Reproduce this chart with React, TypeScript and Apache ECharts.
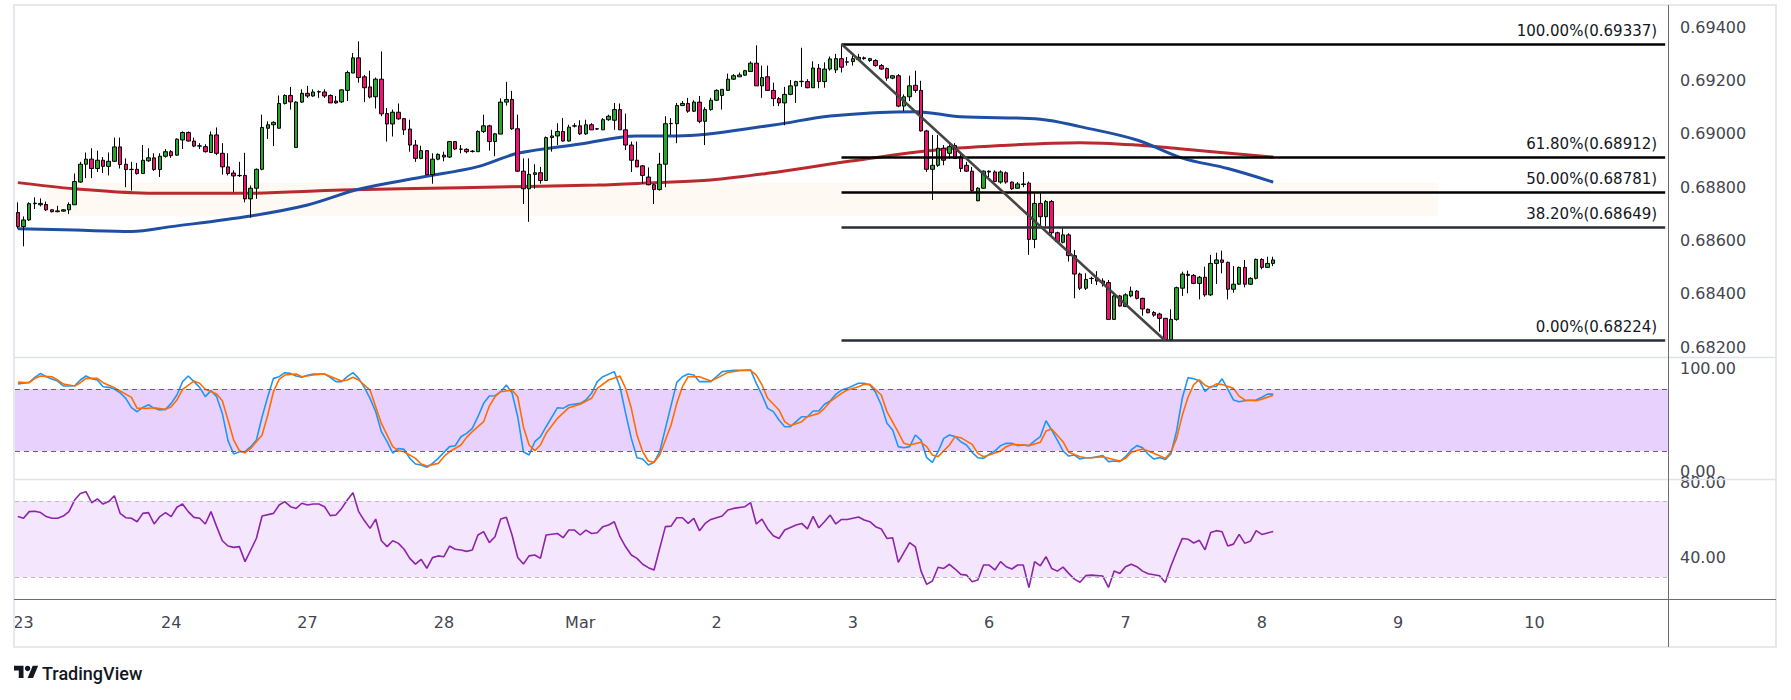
import React, { useEffect, useRef } from "react";
import * as echarts from "echarts";

const SLOTS = 291;
const CATEGORIES = Array.from({ length: SLOTS }, (_, i) => String(i));
const DAY_TICKS: [number, string][] = [
  [1, "23"], [27, "24"], [51, "27"], [75, "28"], [99, "Mar"], [123, "2"],
  [147, "3"], [171, "6"], [195, "7"], [219, "8"], [243, "9"], [267, "10"],
];
const PRICE_TICKS = [0.682, 0.684, 0.686, 0.688, 0.69, 0.692, 0.694];
const STOCH_TICKS = [0, 100];
const RSI_TICKS = [40, 80];

const OPEN = [
  0.68705, 0.68652, 0.68677, 0.68738, 0.68734, 0.68735, 0.68715, 0.68711, 0.68710, 0.68715,
  0.68734, 0.68819, 0.68886, 0.68905, 0.68870, 0.68901, 0.68878, 0.68897, 0.68951, 0.68886,
  0.68867, 0.68867, 0.68851, 0.68899, 0.68910, 0.68866, 0.68916, 0.68933, 0.68920, 0.68977,
  0.69005, 0.68973, 0.68955, 0.68952, 0.68930, 0.68996, 0.68927, 0.68876, 0.68853, 0.68844,
  0.68844, 0.68756, 0.68796, 0.68867, 0.69021, 0.69034, 0.69021, 0.69114, 0.69144, 0.68949,
  0.69119, 0.69152, 0.69142, 0.69157, 0.69157, 0.69144, 0.69123, 0.69120, 0.69163, 0.69228,
  0.69285, 0.69214, 0.69176, 0.69139, 0.69205, 0.69076, 0.69037, 0.69081, 0.69057, 0.69018,
  0.68958, 0.68908, 0.68937, 0.68847, 0.68905, 0.68920, 0.68913, 0.68971, 0.68943, 0.68942,
  0.68935, 0.68933, 0.69009, 0.69030, 0.68971, 0.68999, 0.69119, 0.69129, 0.69019, 0.68860,
  0.68794, 0.68848, 0.68854, 0.68825, 0.68986, 0.68992, 0.69009, 0.68973, 0.69029, 0.69030,
  0.69000, 0.69034, 0.69018, 0.69015, 0.69053, 0.69051, 0.69091, 0.69015, 0.68958, 0.68901,
  0.68880, 0.68838, 0.68809, 0.68791, 0.68886, 0.69038, 0.69038, 0.69106, 0.69114, 0.69085,
  0.69119, 0.69047, 0.69091, 0.69126, 0.69144, 0.69163, 0.69205, 0.69214, 0.69220, 0.69234,
  0.69265, 0.69180, 0.69214, 0.69163, 0.69132, 0.69116, 0.69148, 0.69180, 0.69196, 0.69196,
  0.69173, 0.69246, 0.69196, 0.69243, 0.69240, 0.69282, 0.69269, 0.69271, 0.69279, 0.69285,
  0.69282, 0.69275, 0.69256, 0.69245, 0.69209, 0.69218, 0.69104, 0.69139, 0.69182, 0.69163,
  0.69011, 0.68867, 0.68882, 0.68946, 0.68927, 0.68956, 0.68914, 0.68882, 0.68860, 0.68749,
  0.68796, 0.68860, 0.68857, 0.68819, 0.68854, 0.68819, 0.68796, 0.68812, 0.68815, 0.68604,
  0.68739, 0.68689, 0.68746, 0.68629, 0.68593, 0.68621, 0.68543, 0.68474, 0.68421, 0.68458,
  0.68458, 0.68448, 0.68442, 0.68304, 0.68392, 0.68352, 0.68392, 0.68410, 0.68383, 0.68342,
  0.68330, 0.68324, 0.68308, 0.68227, 0.68304, 0.68421, 0.68469, 0.68469, 0.68439, 0.68462,
  0.68396, 0.68514, 0.68527, 0.68518, 0.68417, 0.68436, 0.68499, 0.68436, 0.68458, 0.68529,
  0.68499, 0.68514,
];
const CLOSE = [
  0.68652, 0.68677, 0.68738, 0.68740, 0.68739, 0.68715, 0.68708, 0.68708, 0.68715, 0.68735,
  0.68821, 0.68886, 0.68905, 0.68870, 0.68901, 0.68878, 0.68897, 0.68951, 0.68885, 0.68866,
  0.68866, 0.68851, 0.68901, 0.68910, 0.68866, 0.68916, 0.68933, 0.68918, 0.68980, 0.69005,
  0.68973, 0.68954, 0.68954, 0.68933, 0.68996, 0.68927, 0.68876, 0.68851, 0.68842, 0.68843,
  0.68756, 0.68796, 0.68867, 0.69024, 0.69034, 0.69043, 0.69114, 0.69144, 0.69120, 0.69119,
  0.69152, 0.69142, 0.69157, 0.69158, 0.69142, 0.69116, 0.69116, 0.69165, 0.69230, 0.69285,
  0.69211, 0.69173, 0.69138, 0.69205, 0.69075, 0.69037, 0.69081, 0.69056, 0.69015, 0.68958,
  0.68908, 0.68937, 0.68847, 0.68905, 0.68923, 0.68913, 0.68971, 0.68943, 0.68942, 0.68933,
  0.68934, 0.69009, 0.69030, 0.68971, 0.69000, 0.69119, 0.69129, 0.69019, 0.68860, 0.68794,
  0.68848, 0.68854, 0.68825, 0.68986, 0.68992, 0.69009, 0.68973, 0.69025, 0.69030, 0.69000,
  0.69034, 0.69015, 0.69019, 0.69053, 0.69066, 0.69091, 0.69015, 0.68958, 0.68901, 0.68876,
  0.68844, 0.68809, 0.68791, 0.68886, 0.69038, 0.69039, 0.69106, 0.69114, 0.69085, 0.69119,
  0.69047, 0.69091, 0.69126, 0.69163, 0.69167, 0.69205, 0.69218, 0.69221, 0.69237, 0.69265,
  0.69180, 0.69211, 0.69163, 0.69132, 0.69116, 0.69148, 0.69180, 0.69196, 0.69197, 0.69173,
  0.69247, 0.69196, 0.69243, 0.69281, 0.69282, 0.69250, 0.69270, 0.69282, 0.69287, 0.69282,
  0.69275, 0.69256, 0.69243, 0.69209, 0.69218, 0.69104, 0.69139, 0.69180, 0.69163, 0.69011,
  0.68867, 0.68882, 0.68946, 0.68901, 0.68952, 0.68908, 0.68870, 0.68860, 0.68787, 0.68796,
  0.68860, 0.68857, 0.68821, 0.68857, 0.68819, 0.68794, 0.68812, 0.68810, 0.68604, 0.68739,
  0.68689, 0.68746, 0.68629, 0.68596, 0.68621, 0.68543, 0.68474, 0.68421, 0.68454, 0.68457,
  0.68448, 0.68439, 0.68304, 0.68392, 0.68354, 0.68396, 0.68410, 0.68383, 0.68343, 0.68329,
  0.68320, 0.68308, 0.68227, 0.68304, 0.68423, 0.68474, 0.68473, 0.68439, 0.68462, 0.68396,
  0.68514, 0.68527, 0.68518, 0.68417, 0.68436, 0.68499, 0.68436, 0.68458, 0.68529, 0.68499,
  0.68514, 0.68527,
];
const LOW = [
  0.68644, 0.68578, 0.68673, 0.68718, 0.68728, 0.68711, 0.68705, 0.68706, 0.68708, 0.68699,
  0.68734, 0.68816, 0.68834, 0.68834, 0.68857, 0.68853, 0.68844, 0.68895, 0.68870, 0.68800,
  0.68787, 0.68847, 0.68851, 0.68895, 0.68861, 0.68838, 0.68911, 0.68910, 0.68918, 0.68943,
  0.68971, 0.68950, 0.68943, 0.68930, 0.68930, 0.68920, 0.68847, 0.68844, 0.68781, 0.68838,
  0.68743, 0.68686, 0.68756, 0.68863, 0.68981, 0.68954, 0.69021, 0.69110, 0.69091, 0.68949,
  0.69116, 0.69135, 0.69139, 0.69135, 0.69135, 0.69116, 0.69113, 0.69116, 0.69123, 0.69228,
  0.69192, 0.69119, 0.69133, 0.69095, 0.69066, 0.68971, 0.68990, 0.69053, 0.68996, 0.68933,
  0.68895, 0.68905, 0.68847, 0.68813, 0.68901, 0.68897, 0.68910, 0.68939, 0.68927, 0.68927,
  0.68930, 0.68933, 0.69003, 0.68937, 0.68916, 0.68999, 0.69106, 0.69015, 0.68857, 0.68737,
  0.68670, 0.68794, 0.68813, 0.68825, 0.68933, 0.68958, 0.68971, 0.68971, 0.69024, 0.68996,
  0.68996, 0.69015, 0.69015, 0.69014, 0.69049, 0.69015, 0.69015, 0.68939, 0.68857, 0.68876,
  0.68813, 0.68807, 0.68737, 0.68787, 0.68800, 0.68996, 0.68965, 0.69104, 0.69079, 0.69082,
  0.69040, 0.68958, 0.69087, 0.69123, 0.69091, 0.69161, 0.69202, 0.69214, 0.69218, 0.69233,
  0.69180, 0.69135, 0.69161, 0.69104, 0.69104, 0.69032, 0.69145, 0.69116, 0.69176, 0.69171,
  0.69173, 0.69171, 0.69173, 0.69237, 0.69228, 0.69230, 0.69256, 0.69256, 0.69275, 0.69278,
  0.69270, 0.69252, 0.69240, 0.69199, 0.69205, 0.69100, 0.69085, 0.69123, 0.69154, 0.69009,
  0.68857, 0.68752, 0.68876, 0.68882, 0.68908, 0.68908, 0.68857, 0.68857, 0.68781, 0.68747,
  0.68794, 0.68838, 0.68819, 0.68813, 0.68813, 0.68790, 0.68794, 0.68800, 0.68546, 0.68571,
  0.68652, 0.68652, 0.68621, 0.68592, 0.68589, 0.68521, 0.68383, 0.68414, 0.68414, 0.68437,
  0.68433, 0.68427, 0.68304, 0.68304, 0.68352, 0.68352, 0.68387, 0.68379, 0.68318, 0.68327,
  0.68314, 0.68258, 0.68224, 0.68226, 0.68299, 0.68392, 0.68402, 0.68436, 0.68379, 0.68389,
  0.68392, 0.68437, 0.68477, 0.68379, 0.68404, 0.68433, 0.68424, 0.68433, 0.68454, 0.68492,
  0.68498, 0.68504,
];
const HIGH = [
  0.68743, 0.68690, 0.68743, 0.68762, 0.68758, 0.68746, 0.68718, 0.68730, 0.68718, 0.68743,
  0.68851, 0.68895, 0.68930, 0.68946, 0.68937, 0.68913, 0.68930, 0.68986, 0.68986, 0.68908,
  0.68895, 0.68891, 0.68958, 0.68946, 0.68927, 0.68927, 0.68943, 0.68939, 0.68983, 0.69009,
  0.69009, 0.68986, 0.68965, 0.68961, 0.69009, 0.69024, 0.68965, 0.68927, 0.68863, 0.68895,
  0.68929, 0.68806, 0.68870, 0.69072, 0.69047, 0.69047, 0.69144, 0.69148, 0.69176, 0.69122,
  0.69167, 0.69180, 0.69167, 0.69163, 0.69167, 0.69148, 0.69142, 0.69167, 0.69237, 0.69303,
  0.69347, 0.69221, 0.69237, 0.69211, 0.69309, 0.69097, 0.69091, 0.69114, 0.69059, 0.69053,
  0.68977, 0.68955, 0.68939, 0.68927, 0.68927, 0.68933, 0.68973, 0.68973, 0.68958, 0.68946,
  0.68939, 0.69013, 0.69072, 0.69034, 0.69003, 0.69133, 0.69195, 0.69161, 0.69072, 0.68908,
  0.68908, 0.68886, 0.68876, 0.68990, 0.69015, 0.69040, 0.69059, 0.69034, 0.69040, 0.69051,
  0.69053, 0.69040, 0.69021, 0.69059, 0.69072, 0.69116, 0.69114, 0.69076, 0.68971, 0.68971,
  0.68883, 0.68874, 0.68813, 0.68929, 0.69066, 0.69059, 0.69116, 0.69123, 0.69135, 0.69126,
  0.69142, 0.69100, 0.69135, 0.69167, 0.69167, 0.69226, 0.69224, 0.69230, 0.69240, 0.69272,
  0.69332, 0.69256, 0.69256, 0.69192, 0.69138, 0.69176, 0.69202, 0.69199, 0.69323, 0.69205,
  0.69272, 0.69262, 0.69268, 0.69290, 0.69300, 0.69337, 0.69288, 0.69294, 0.69300, 0.69290,
  0.69285, 0.69280, 0.69262, 0.69249, 0.69221, 0.69224, 0.69148, 0.69218, 0.69237, 0.69199,
  0.69015, 0.68996, 0.68996, 0.68958, 0.68965, 0.68965, 0.68927, 0.68895, 0.68876, 0.68800,
  0.68863, 0.68863, 0.68863, 0.68863, 0.68859, 0.68821, 0.68819, 0.68857, 0.68821, 0.68777,
  0.68777, 0.68752, 0.68752, 0.68633, 0.68646, 0.68627, 0.68564, 0.68479, 0.68477, 0.68464,
  0.68485, 0.68458, 0.68452, 0.68396, 0.68396, 0.68402, 0.68427, 0.68414, 0.68385, 0.68345,
  0.68335, 0.68329, 0.68308, 0.68342, 0.68427, 0.68483, 0.68487, 0.68474, 0.68467, 0.68502,
  0.68546, 0.68554, 0.68562, 0.68521, 0.68504, 0.68502, 0.68527, 0.68462, 0.68532, 0.68533,
  0.68539, 0.68539,
];

const MA_RED: [number, number][] = [
  [0, 0.68817], [10, 0.68794], [24, 0.68777], [40, 0.68777], [57, 0.68789], [78, 0.68798],
  [102, 0.68808], [112, 0.68817], [122, 0.68827], [132, 0.68852], [146, 0.68896],
  [160, 0.68936], [173, 0.68956], [187, 0.68967], [197, 0.68958], [205, 0.68943], [221, 0.68913],
];
const MA_BLUE: [number, number][] = [
  [0, 0.68644], [10, 0.68639], [20, 0.68634], [27, 0.68652], [41, 0.68692], [51, 0.68733],
  [60, 0.68792], [71, 0.68837], [81, 0.68877], [88, 0.68927], [99, 0.68962], [109, 0.68992],
  [116, 0.68992], [133, 0.69033], [143, 0.69067], [158, 0.69083], [166, 0.69064],
  [180, 0.69055], [187, 0.69027], [197, 0.68977], [205, 0.68909], [213, 0.6887], [221, 0.68819],
];

const STOCH_K: [number, number][] = [
  [0, 84.8], [1, 85.5], [2, 86.4], [3, 91.3], [4, 95.1], [5, 91.9], [6, 89.6], [7, 87.7], [8, 82.9], [9, 82.9],
  [10, 83.2], [11, 88.7], [12, 92.6], [13, 90.0], [14, 88.7], [15, 82.2], [16, 81.6], [17, 80.0], [18, 76.4], [19, 70.9],
  [20, 61.9], [21, 58.0], [22, 62.2], [23, 64.8], [24, 61.3], [25, 59.6], [26, 60.3], [27, 66.1], [28, 74.2], [29, 87.1],
  [30, 92.6], [31, 87.1], [32, 81.6], [33, 72.6], [34, 78.4], [35, 72.6], [36, 56.4], [37, 30.0], [38, 17.1], [39, 19.3],
  [40, 19.3], [41, 24.2], [42, 30.6], [43, 53.2], [44, 72.6], [45, 90.3], [46, 91.9], [47, 95.8], [48, 95.1], [49, 92.6],
  [50, 91.3], [51, 93.2], [52, 94.5], [53, 94.5], [54, 94.5], [55, 91.3], [56, 87.1], [57, 87.1], [58, 91.9], [59, 95.8],
  [60, 90.3], [61, 81.6], [62, 70.9], [63, 58.0], [64, 38.7], [65, 29.0], [66, 18.0], [67, 22.5], [68, 21.6], [69, 12.9],
  [70, 7.4], [71, 6.4], [72, 4.2], [73, 8.0], [74, 12.9], [75, 18.7], [76, 24.2], [77, 25.1], [78, 33.8], [79, 37.1],
  [80, 41.9], [81, 53.2], [82, 66.1], [83, 73.2], [84, 73.5], [85, 77.4], [86, 83.8], [87, 76.4], [88, 53.2], [89, 19.3],
  [90, 16.1], [91, 29.0], [92, 33.9], [93, 43.5], [95, 61.9], [96, 61.3], [97, 64.5], [99, 66.1], [100, 69.3], [101, 75.8],
  [102, 87.1], [103, 91.9], [105, 96.8], [106, 82.2], [107, 56.4], [108, 32.2], [109, 13.5], [110, 12.2], [111, 6.4], [112, 9.0],
  [113, 19.3], [114, 41.9], [116, 86.4], [117, 91.9], [118, 94.5], [119, 93.5], [120, 87.1], [122, 87.1], [123, 91.9], [124, 96.8],
  [126, 98.1], [127, 98.1], [129, 98.4], [130, 85.5], [131, 74.2], [132, 61.3], [133, 58.1], [134, 50.0], [135, 43.5], [136, 43.5],
  [137, 48.4], [138, 53.2], [139, 53.2], [140, 58.7], [141, 58.7], [142, 65.2], [143, 68.4], [144, 74.8], [145, 79.0], [146, 80.6],
  [147, 83.2], [148, 85.5], [149, 85.5], [150, 83.9], [151, 76.8], [152, 64.5], [153, 46.8], [154, 40.3], [155, 24.2], [156, 23.2],
  [157, 24.2], [158, 35.5], [159, 30.6], [160, 13.5], [161, 9.0], [162, 19.3], [163, 32.2], [164, 35.5], [165, 33.9], [166, 29.0],
  [167, 25.8], [168, 18.7], [169, 13.5], [170, 12.9], [171, 16.8], [172, 20.0], [173, 25.2], [174, 27.4], [175, 27.4], [176, 25.2],
  [177, 25.8], [178, 25.2], [179, 29.7], [180, 33.9], [181, 49.3], [182, 40.3], [183, 30.6], [184, 20.0], [185, 15.1], [186, 16.1],
  [187, 12.2], [188, 13.5], [189, 13.5], [190, 14.5], [191, 15.5], [192, 9.7], [193, 10.3], [194, 9.7], [195, 14.5], [196, 21.0],
  [197, 25.2], [198, 23.2], [199, 16.8], [200, 12.2], [201, 13.6], [202, 11.7], [203, 17.3], [204, 39.6], [205, 71.3], [206, 91.0],
  [207, 89.9], [208, 88.0], [209, 77.6], [210, 82.4], [211, 82.4], [212, 89.9], [213, 79.8], [214, 69.4], [215, 67.6], [216, 68.7],
  [218, 69.4], [219, 72.0], [220, 75.0], [221, 75.0],
];
const STOCH_D: [number, number][] = [
  [0, 86.7], [2, 86.1], [3, 90.3], [4, 92.6], [6, 91.9], [7, 88.7], [8, 84.8], [10, 82.9], [11, 86.1], [12, 90.3],
  [14, 90.3], [15, 86.1], [17, 81.3], [18, 78.0], [20, 71.9], [21, 61.3], [23, 61.3], [24, 61.9], [26, 60.3], [27, 62.9],
  [28, 69.3], [29, 79.7], [31, 87.7], [32, 85.5], [33, 79.7], [35, 75.1], [36, 68.7], [37, 50.0], [38, 30.6], [39, 20.3],
  [40, 18.3], [41, 22.5], [43, 35.4], [44, 54.8], [45, 77.4], [46, 89.3], [47, 93.5], [49, 94.5], [50, 91.9], [52, 93.5],
  [54, 94.5], [56, 90.0], [57, 87.7], [58, 88.7], [59, 91.3], [60, 88.7], [62, 79.0], [63, 62.9], [64, 46.7], [66, 24.2],
  [67, 20.3], [68, 19.3], [70, 12.9], [71, 7.4], [72, 5.4], [74, 8.0], [75, 14.5], [76, 19.3], [78, 25.8], [79, 33.2],
  [80, 38.7], [82, 48.4], [83, 63.5], [84, 72.5], [85, 77.4], [87, 79.0], [88, 72.5], [89, 43.5], [90, 25.8], [91, 20.3],
  [92, 25.8], [93, 37.1], [95, 51.6], [97, 61.9], [99, 65.2], [101, 71.0], [102, 80.6], [104, 88.7], [106, 92.5], [107, 80.6],
  [108, 61.3], [109, 35.5], [110, 19.3], [111, 10.3], [112, 9.0], [113, 16.1], [115, 45.2], [116, 66.1], [117, 82.2], [118, 91.9],
  [120, 91.9], [122, 87.7], [123, 90.3], [125, 96.1], [127, 97.7], [129, 98.1], [130, 93.5], [131, 83.9], [132, 71.0], [134, 59.7],
  [135, 48.4], [136, 44.5], [138, 48.4], [139, 53.2], [141, 56.4], [142, 61.3], [143, 67.7], [145, 75.8], [146, 79.0], [148, 82.2],
  [149, 84.5], [150, 84.5], [152, 74.2], [153, 58.1], [155, 38.1], [156, 27.4], [157, 25.8], [159, 28.4], [160, 24.2], [161, 16.1],
  [162, 14.5], [164, 25.8], [165, 33.9], [166, 32.9], [168, 26.4], [169, 17.7], [170, 14.5], [171, 16.1], [173, 20.0], [174, 24.2],
  [175, 26.4], [177, 25.8], [178, 25.2], [180, 28.4], [181, 39.3], [182, 41.3], [184, 29.0], [185, 18.7], [187, 14.5], [188, 13.5],
  [189, 13.5], [191, 14.5], [192, 12.9], [194, 10.3], [195, 12.9], [196, 18.7], [198, 21.9], [199, 20.0], [201, 15.5], [202, 12.8],
  [203, 19.1], [204, 32.2], [205, 54.5], [206, 72.0], [207, 84.3], [208, 88.8], [209, 83.6], [210, 81.3], [211, 85.0], [212, 84.3],
  [214, 80.6], [215, 73.1], [216, 69.4], [218, 68.7], [219, 70.2], [221, 73.9],
];
const RSI: [number, number][] = [
  [0, 61.8], [1, 60.9], [2, 64.4], [3, 64.6], [4, 63.9], [5, 61.8], [6, 60.9], [7, 60.9], [8, 62.1], [9, 64.4],
  [10, 70.5], [11, 74.0], [12, 74.9], [13, 69.1], [14, 71.1], [15, 68.4], [16, 69.7], [17, 72.8], [18, 63.5], [19, 61.2],
  [20, 60.9], [21, 59.1], [22, 63.5], [23, 63.9], [24, 57.9], [25, 61.8], [26, 63.9], [27, 61.8], [28, 66.7], [29, 68.4],
  [30, 64.4], [31, 61.4], [32, 60.9], [33, 57.9], [34, 64.4], [35, 56.5], [36, 49.1], [37, 46.3], [38, 45.6], [39, 46.0],
  [40, 38.1], [41, 44.2], [42, 50.4], [43, 62.1], [45, 63.5], [46, 67.9], [47, 69.7], [48, 67.0], [49, 66.1], [50, 68.8],
  [51, 67.9], [52, 68.4], [53, 68.4], [54, 67.0], [55, 62.3], [56, 62.6], [57, 66.1], [58, 70.5], [59, 74.4], [60, 64.4],
  [61, 59.7], [62, 55.6], [63, 60.5], [64, 49.1], [65, 46.0], [66, 49.1], [67, 47.7], [68, 44.6], [69, 39.8], [70, 36.8],
  [71, 39.3], [72, 34.6], [73, 40.2], [74, 41.1], [75, 40.7], [76, 46.3], [77, 44.6], [78, 44.2], [79, 43.5], [80, 44.2],
  [81, 52.1], [82, 53.9], [83, 48.1], [84, 51.2], [85, 60.5], [86, 61.4], [87, 52.1], [88, 40.3], [89, 36.8], [90, 41.1],
  [91, 41.6], [92, 39.8], [93, 52.1], [95, 52.9], [96, 50.7], [97, 54.7], [98, 54.7], [99, 52.1], [100, 54.7], [101, 52.9],
  [102, 53.3], [103, 56.5], [104, 57.4], [105, 59.1], [106, 51.2], [107, 45.9], [108, 41.6], [109, 39.8], [110, 36.7], [111, 34.9],
  [112, 33.7], [114, 56.5], [115, 56.8], [116, 61.2], [117, 61.2], [118, 58.2], [119, 60.9], [120, 54.4], [121, 58.2], [122, 60.3],
  [124, 62.1], [125, 65.3], [126, 66.1], [128, 67.0], [129, 69.1], [130, 57.9], [131, 60.5], [132, 55.3], [133, 51.7], [134, 50.3],
  [135, 54.7], [137, 57.4], [138, 58.2], [139, 55.3], [140, 61.9], [141, 55.9], [142, 59.1], [143, 62.6], [144, 57.9], [145, 60.3],
  [146, 60.3], [148, 61.6], [149, 60.0], [150, 59.1], [151, 56.5], [152, 55.3], [153, 50.3], [154, 50.7], [155, 37.7], [156, 43.0],
  [157, 48.1], [158, 45.9], [159, 33.1], [160, 26.1], [161, 27.9], [162, 35.1], [163, 34.5], [164, 36.7], [165, 34.2], [166, 31.4],
  [167, 31.0], [168, 27.5], [169, 28.4], [170, 36.3], [171, 36.3], [172, 33.7], [173, 38.1], [174, 35.4], [175, 34.2], [176, 36.3],
  [177, 36.3], [178, 24.4], [179, 38.1], [180, 35.9], [181, 40.7], [182, 34.5], [183, 33.1], [184, 35.2], [185, 31.9], [186, 28.9],
  [187, 27.2], [188, 30.7], [189, 31.0], [191, 30.5], [192, 24.5], [193, 33.1], [194, 31.9], [195, 35.4], [196, 36.7], [197, 35.4],
  [198, 33.1], [199, 31.7], [201, 30.7], [202, 27.1], [203, 35.8], [204, 43.3], [205, 50.3], [206, 49.9], [207, 47.9], [208, 49.3],
  [209, 44.3], [210, 53.4], [211, 54.4], [212, 53.8], [213, 46.3], [214, 47.3], [215, 52.4], [216, 47.7], [217, 48.9], [218, 54.4],
  [219, 52.4], [220, 53.2], [221, 54.0],
];

const FIB_LEVELS: [string, number][] = [
  ["100.00%", 0.69337], ["61.80%", 0.68912], ["50.00%", 0.68781], ["38.20%", 0.68649], ["0.00%", 0.68224],
];
const FIB_START = 145;
const TREND: [number, number][] = [[145, 0.69337], [202, 0.68224]];
const ZONE: [number, number][] = [[5, 0.68817], [250, 0.68692]];
const STOCH_BAND = [20, 80];
const RSI_BAND = [30, 70];

const TEXT_FONT = "'DejaVu Sans', 'Noto Sans', sans-serif";

export default function App() {
  const ref = useRef<HTMLDivElement>(null);
  useEffect(() => {
    if (!ref.current) return;
    const chart = echarts.init(ref.current, null, { renderer: "svg" });
    const candles = OPEN.map((o, i) => [o, CLOSE[i], LOW[i], HIGH[i]]);
    const dayMap: Record<number, string> = {};
    DAY_TICKS.forEach(([i, s]) => (dayMap[i] = s));
    const fibColors = ["#000000", "#000000", "#000000", "#2a2e39", "#2a2e39"];
    const gridL = 15, gridR = 123;
    const hiddenX = (g: number) => ({
      type: "category", gridIndex: g, data: CATEGORIES, boundaryGap: true,
      axisLine: { show: false }, axisTick: { show: false }, splitLine: { show: false },
      axisLabel: { show: false },
    });
    const yAx = (g: number, min: number, max: number, ticks: number[], digits: number) => ({
      type: "value", gridIndex: g, position: "right", min, max, scale: true,
      splitLine: { show: false }, axisLine: { show: false }, axisTick: { show: false },
      axisLabel: {
        customValues: ticks, formatter: (v: number) => v.toFixed(digits), margin: 12,
        color: "#434651", fontSize: 16, fontFamily: TEXT_FONT,
      },
    });
    const option: any = {
      animation: false,
      backgroundColor: "#ffffff",
      grid: [
        { left: gridL, right: gridR, top: 5, height: 352 },
        { left: gridL, right: gridR, top: 357, height: 122 },
        { left: gridL, right: gridR, top: 479, height: 120 },
      ],
      xAxis: [
        hiddenX(0),
        hiddenX(1),
        {
          ...hiddenX(2),
          axisLabel: {
            show: true,
            interval: (idx: number) => dayMap[idx] !== undefined,
            formatter: (_v: string, idx: number) => dayMap[idx] || "",
            margin: 15, fontSize: 16, color: "#434651", fontFamily: TEXT_FONT,
          },
        },
      ],
      yAxis: [
        yAx(0, 0.681629, 0.694833, PRICE_TICKS, 5),
        yAx(1, -7.1, 110.97, STOCH_TICKS, 2),
        yAx(2, 18.42, 81.58, RSI_TICKS, 2),
      ],
      series: [
        {
          type: "line", name: "MA long", xAxisIndex: 0, yAxisIndex: 0, data: MA_RED,
          smooth: 0.35, symbol: "none", lineStyle: { color: "#b82a2e", width: 3 }, z: 2,
        },
        {
          type: "line", name: "MA short", xAxisIndex: 0, yAxisIndex: 0, data: MA_BLUE,
          smooth: 0.35, symbol: "none", lineStyle: { color: "#1f4fa3", width: 3 }, z: 2,
        },
        {
          type: "candlestick", xAxisIndex: 0, yAxisIndex: 0, data: candles, barWidth: 4, z: 3,
          itemStyle: {
            color: "#22a82a", color0: "#f50f72", borderColor: "#000000", borderColor0: "#000000", borderWidth: 1,
          },
          markArea: {
            silent: true,
            itemStyle: { color: "rgba(255,160,60,0.06)" },
            data: [[{ coord: ZONE[0] }, { coord: ZONE[1] }]],
          },
          markLine: {
            silent: true, symbol: ["none", "none"], animation: false,
            data: [
              ...FIB_LEVELS.map(([pct, v], k) => [
                {
                  coord: [FIB_START, v],
                  lineStyle: { color: fibColors[k], width: 2.6, type: "solid", opacity: 1 },
                  label: {
                    show: true, position: "insideEndTop", formatter: `${pct}(${v.toFixed(5)})`,
                    color: "#131722", fontSize: 15, fontFamily: TEXT_FONT, distance: 6, padding: [0, 2, 0, 0],
                  },
                },
                { coord: [SLOTS - 1, v] },
              ]),
              [
                { coord: TREND[0], lineStyle: { color: "#454545", width: 2.6, type: "solid", opacity: 1 }, label: { show: false } },
                { coord: TREND[1] },
              ],
            ],
          },
        },
        {
          type: "line", name: "%K", xAxisIndex: 1, yAxisIndex: 1, data: STOCH_K, symbol: "none",
          lineStyle: { color: "#2196f3", width: 1.6 }, z: 3,
          markArea: {
            silent: true, itemStyle: { color: "#e9d1fd" },
            data: [[{ yAxis: STOCH_BAND[0] }, { yAxis: STOCH_BAND[1] }]],
          },
          markLine: {
            silent: true, symbol: ["none", "none"], label: { show: false },
            lineStyle: { color: "#62646e", width: 1, type: [5, 4] },
            data: [{ yAxis: STOCH_BAND[1] }, { yAxis: STOCH_BAND[0] }],
          },
        },
        {
          type: "line", name: "%D", xAxisIndex: 1, yAxisIndex: 1, data: STOCH_D, symbol: "none",
          lineStyle: { color: "#ff6d00", width: 1.6 }, z: 4,
        },
        {
          type: "line", name: "RSI", xAxisIndex: 2, yAxisIndex: 2, data: RSI, symbol: "none",
          lineStyle: { color: "#8e24aa", width: 1.6 }, z: 3,
          markArea: {
            silent: true, itemStyle: { color: "#f3e6fd" },
            data: [[{ yAxis: RSI_BAND[0] }, { yAxis: RSI_BAND[1] }]],
          },
          markLine: {
            silent: true, symbol: ["none", "none"], label: { show: false },
            lineStyle: { color: "#b8b9c0", width: 1, type: [4, 4] },
            data: [{ yAxis: RSI_BAND[1] }, { yAxis: RSI_BAND[0] }],
          },
        },
      ],
      graphic: [
        { type: "rect", silent: true, z: 50, shape: { x: 14, y: 5, width: 1762, height: 642 },
          style: { fill: "none", stroke: "#e6e8ee", lineWidth: 2 } },
        { type: "line", silent: true, z: 50, shape: { x1: 14, y1: 357.5, x2: 1776, y2: 357.5 },
          style: { stroke: "#e0e3eb", lineWidth: 1.5 } },
        { type: "line", silent: true, z: 50, shape: { x1: 14, y1: 479.5, x2: 1776, y2: 479.5 },
          style: { stroke: "#e0e3eb", lineWidth: 1.5 } },
        { type: "line", silent: true, z: 50, shape: { x1: 14, y1: 599.5, x2: 1776, y2: 599.5 },
          style: { stroke: "#6a6d78", lineWidth: 1 } },
        { type: "line", silent: true, z: 50, shape: { x1: 1668.5, y1: 5, x2: 1668.5, y2: 647 },
          style: { stroke: "#6a6d78", lineWidth: 1 } },
        {
          type: "group", x: 14, y: 663, scaleX: 0.68, scaleY: 0.68, silent: true,
          children: [
            { type: "polygon", shape: { points: [[0, 4], [14, 4], [14, 22], [7, 22], [7, 11], [0, 11]] }, style: { fill: "#131722" } },
            { type: "circle", shape: { cx: 20, cy: 8, r: 4 }, style: { fill: "#131722" } },
            { type: "polygon", shape: { points: [[20, 22], [27.5, 4], [35.5, 4], [28, 22]] }, style: { fill: "#131722" } },
          ],
        },
        {
          type: "text", x: 42, y: 673, silent: true,
          style: { text: "TradingView", fill: "#131722", fontSize: 18, fontWeight: 500,
            fontFamily: "Roboto, 'Noto Sans', sans-serif", verticalAlign: "middle", align: "left" },
        },
      ],
    };
    chart.setOption(option);
    return () => chart.dispose();
  }, []);
  return (
    <div
      ref={ref}
      style={{ position: "absolute", left: 0, top: 0, width: 1791, height: 700, background: "#ffffff" }}
    />
  );
}
